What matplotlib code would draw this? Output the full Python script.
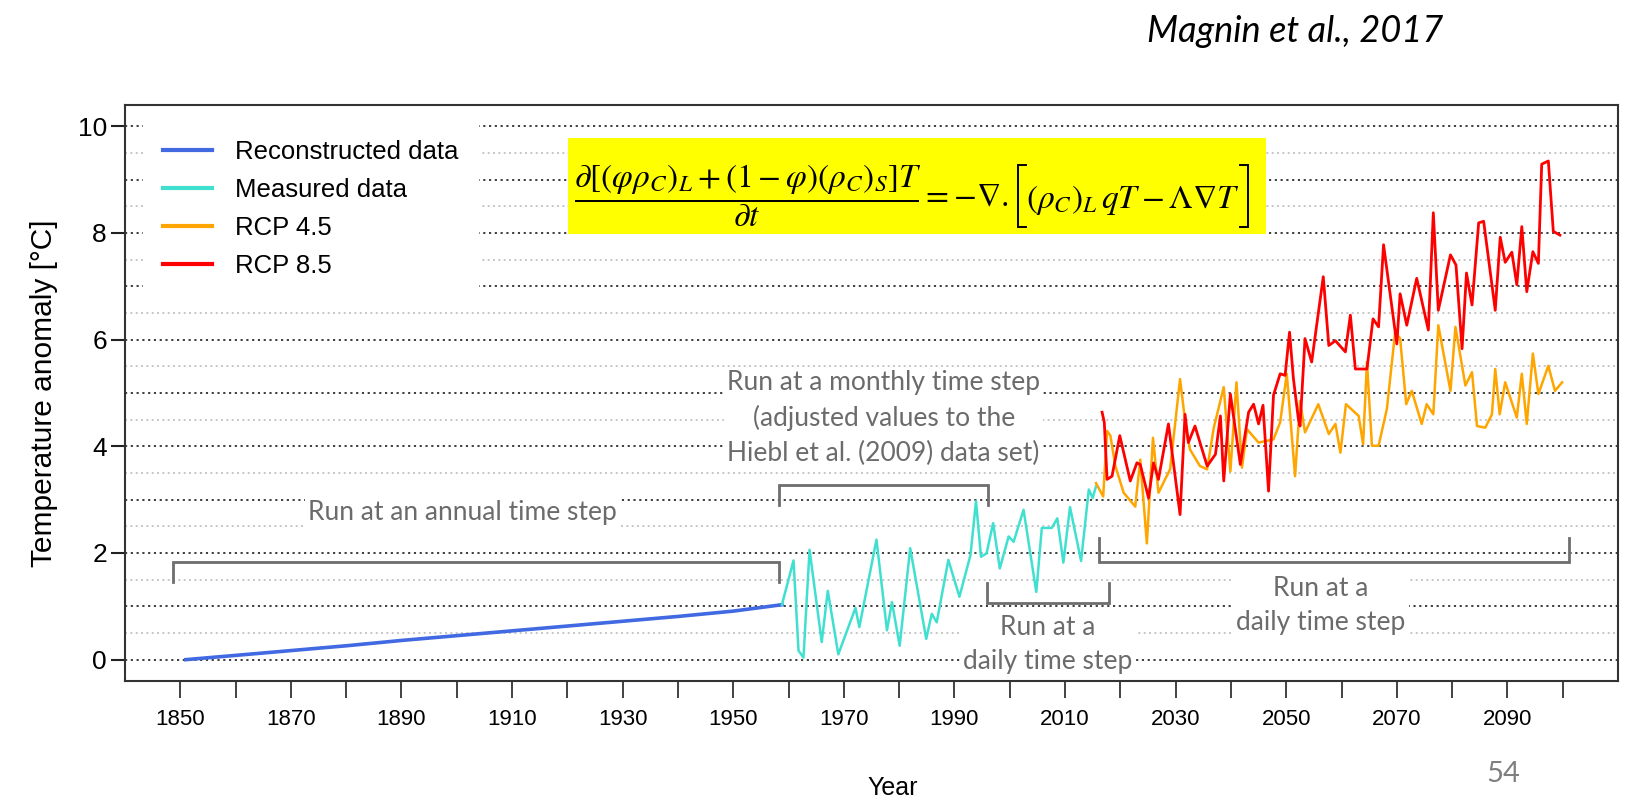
import matplotlib
matplotlib.use('Agg')
import numpy as np
import matplotlib.pyplot as plt
from matplotlib.patches import Rectangle

plt.rcParams['font.family'] = ['Liberation Sans', 'DejaVu Sans']
plt.rcParams['mathtext.fontset'] = 'stix'

# values
reconstructed_years = [1851, 1860, 1870, 1880, 1890, 1900, 1910, 1920, 1930, 1940, 1950, 1958.8]
reconstructed_temp = [0.0, 0.08, 0.17, 0.26, 0.36, 0.45, 0.54, 0.63, 0.72, 0.81, 0.91, 1.03]

measured_years = [1958.8, 1960.9, 1961.8, 1962.7, 1963.8, 1966.0, 1967.1, 1969.0, 1972.1, 1972.8,
                  1975.9, 1977.8, 1978.7, 1980.1, 1982.0, 1984.9, 1985.9, 1986.8, 1988.9, 1990.9,
                  1992.9, 1993.9, 1994.8, 1995.8, 1997.0, 1998.2, 1999.8, 2000.7, 2002.5, 2004.8,
                  2005.8, 2007.6, 2008.6, 2009.7, 2010.9, 2012.9, 2014.3, 2015.0, 2015.6]
measured_temp = [1.03, 1.86, 0.17, 0.04, 2.06, 0.33, 1.29, 0.10, 0.97, 0.61,
                 2.25, 0.55, 1.08, 0.26, 2.09, 0.39, 0.86, 0.70, 1.87, 1.18,
                 1.96, 2.97, 1.93, 1.99, 2.56, 1.71, 2.31, 2.21, 2.81, 1.27,
                 2.47, 2.47, 2.65, 1.82, 2.86, 1.85, 3.19, 3.03, 3.25]

rcp45_years = [2015.6, 2016.9, 2017.6, 2018.2, 2019.1, 2020.6, 2022.7, 2023.6, 2024.8, 2025.9,
               2026.9, 2029.0, 2030.8, 2031.9, 2032.6, 2034.4, 2035.7, 2036.9, 2038.7, 2039.9,
               2041.0, 2042.0, 2042.9, 2045.0, 2047.7, 2048.9, 2050.1, 2051.6, 2052.5, 2053.4,
               2055.8, 2057.7, 2058.9, 2059.8, 2060.8, 2063.1, 2063.9, 2064.6, 2065.5, 2066.7,
               2068.2, 2069.7, 2070.6, 2071.7, 2072.7, 2074.5, 2075.4, 2076.6, 2077.5, 2079.7,
               2080.6, 2082.4, 2083.6, 2084.5, 2086.0, 2087.2, 2087.8, 2088.6, 2089.6, 2091.7,
               2092.6, 2093.5, 2094.6, 2095.6, 2097.4, 2098.6, 2099.9]
rcp45_temp = [3.31, 3.06, 4.29, 4.20, 3.63, 3.13, 2.87, 3.75, 2.18, 4.16,
              3.13, 3.57, 5.26, 4.32, 3.94, 3.63, 3.57, 4.35, 5.11, 3.53,
              5.20, 3.60, 4.32, 4.07, 4.13, 4.45, 5.36, 3.44, 4.85, 4.26,
              4.79, 4.23, 4.42, 3.88, 4.79, 4.57, 4.04, 5.58, 4.01, 4.01,
              4.70, 6.14, 6.02, 4.79, 5.04, 4.42, 4.79, 4.60, 6.27, 5.04,
              6.24, 5.14, 5.39, 4.38, 4.35, 4.60, 5.45, 4.60, 5.20, 4.54,
              5.36, 4.42, 5.74, 4.98, 5.51, 5.04, 5.20]

rcp85_years = [2016.7, 2017.1, 2017.6, 2018.5, 2019.9, 2021.8, 2023.0, 2023.6, 2025.1, 2026.0,
               2026.9, 2028.7, 2030.8, 2031.7, 2032.3, 2033.5, 2035.7, 2037.2, 2038.1, 2038.7,
               2039.9, 2041.7, 2043.2, 2044.1, 2045.0, 2045.8, 2046.8, 2047.7, 2048.9, 2049.8,
               2050.6, 2051.3, 2052.2, 2052.5, 2053.4, 2054.6, 2056.7, 2057.7, 2058.9, 2060.7,
               2061.6, 2062.5, 2064.6, 2065.7, 2066.7, 2067.6, 2070.0, 2070.6, 2071.8, 2073.6,
               2075.7, 2076.6, 2077.5, 2079.7, 2080.7, 2081.8, 2082.6, 2083.6, 2084.8, 2085.7,
               2087.8, 2088.7, 2089.6, 2090.8, 2091.7, 2092.6, 2093.5, 2094.6, 2095.6, 2096.2,
               2097.4, 2098.3, 2099.5]
rcp85_temp = [4.64, 4.45, 3.38, 3.44, 4.20, 3.35, 3.69, 3.66, 3.03, 3.69,
              3.38, 4.42, 2.72, 4.60, 4.07, 4.38, 3.63, 3.85, 4.57, 3.35,
              4.98, 3.66, 4.64, 4.79, 4.42, 4.77, 3.16, 4.96, 5.36, 5.33,
              6.14, 5.27, 4.51, 4.38, 6.02, 5.58, 7.18, 5.89, 5.98, 5.77,
              6.46, 5.45, 5.45, 6.39, 6.24, 7.78, 5.92, 6.86, 6.27, 7.15,
              6.18, 8.38, 6.55, 7.59, 7.40, 5.83, 7.25, 6.65, 8.19, 8.22,
              6.55, 7.92, 7.45, 7.64, 7.03, 8.12, 6.90, 7.65, 7.43, 9.29,
              9.35, 8.03, 7.96]

tick_years = list(range(1850, 2101, 10))
tick_labels = [str(y) if (y - 1850) % 20 == 0 else '' for y in tick_years]

note_font = ['Lato', 'DejaVu Sans']
note_color = '#6b6b6b'

fig = plt.figure(figsize=(16.25, 7.99), dpi=100)
ax = fig.add_axes([0.0769, 0.1477, 0.9188, 0.7209])
ax.set_xlim(1840, 2110)
ax.set_ylim(-0.4, 10.4)

# dotted horizontal grid, dark on whole degrees, light on halves
for v in range(0, 11):
    ax.axhline(v, color='#2e2e2e', lw=1.3, ls=(0, (1.2, 2.0)), zorder=1)
for v in np.arange(0.5, 10, 1.0):
    ax.axhline(v, color='#bdbdbd', lw=1.2, ls=(0, (1.2, 2.0)), zorder=1)

ax.plot(reconstructed_years, reconstructed_temp, color='#4169E1', lw=2.6, label='Reconstructed data', zorder=3)
ax.plot(measured_years, measured_temp, color='#40E0D0', lw=1.8, label='Measured data', zorder=3)
ax.plot(rcp45_years, rcp45_temp, color='#FFA500', lw=1.8, label='RCP 4.5', zorder=3)
ax.plot(rcp85_years, rcp85_temp, color='#FF0000', lw=2.0, label='RCP 8.5', zorder=4)

ax.set_xticks(tick_years)
ax.set_xticklabels(tick_labels, fontsize=16)
ax.set_yticks(range(0, 11, 2))
ax.tick_params(axis='x', length=12, width=1.2, pad=8, colors='#222222', labelcolor='black')
ax.tick_params(axis='y', length=10, width=1.5, pad=3, labelsize=19, colors='#222222', labelcolor='black')
for s in ax.spines.values():
    s.set_color('#333333')
    s.set_linewidth(1.5)

ax.set_ylabel('Temperature anomaly [°C]', fontsize=21.5)
ax.yaxis.set_label_coords(-0.045, 0.5)
ax.set_xlabel('Year', fontsize=18)
ax.xaxis.set_label_coords(0.514, -0.165)

leg = ax.legend(loc='upper left', bbox_to_anchor=(0.012, 0.975), fontsize=18.5, frameon=True,
                fancybox=False, edgecolor='none', facecolor='white', framealpha=1,
                handlelength=1.9, handletextpad=0.9, labelspacing=0.55, borderpad=0.8,
                borderaxespad=0)
for line in leg.get_lines():
    line.set_linewidth(3)


def bracket(x0, x1, y_bar, y_end):
    ax.plot([x0, x0, x1, x1], [y_end, y_bar, y_bar, y_end], color='#6e6e6e', lw=2.0,
            solid_joinstyle='miter', zorder=2)


box = dict(facecolor='white', edgecolor='none', pad=2)

bracket(1848.6, 1958.2, 1.83, 1.45)
ax.text(1901, 2.76, 'Run at an annual time step', family=note_font, fontsize=19,
        color=note_color, ha='center', va='center', bbox=box, zorder=2)

bracket(1958.3, 1996.0, 3.28, 2.90)
ax.text(1977.2, 4.53, 'Run at a monthly time step\n(adjusted values to the\nHiebl et al. (2009) data set)',
        family=note_font, fontsize=19, color=note_color, ha='center', va='center',
        linespacing=1.5, bbox=box, zorder=2)

bracket(1995.8, 2017.9, 1.07, 1.44)
ax.text(2006.8, 0.28, 'Run at a\ndaily time step', family=note_font, fontsize=19,
        color=note_color, ha='center', va='center', linespacing=1.45, bbox=box, zorder=2)

bracket(2016.2, 2101.2, 1.84, 2.28)
ax.text(2056.3, 1.01, 'Run at a\ndaily time step', family=note_font, fontsize=19,
        color=note_color, ha='center', va='center', linespacing=1.45, bbox=box, zorder=2)

# heat transport equation on a yellow panel
ax.add_patch(Rectangle((0.297, 0.776), 0.467, 0.167, transform=ax.transAxes,
                       facecolor='#FFFF00', edgecolor='none', zorder=5))
eq_base = 0.822
lhs = ax.text(0.301, eq_base, r'$\dfrac{\partial\left[\left(\varphi\rho_C\right)_L+\left(1-\varphi\right)'
              r'\left(\rho_C\right)_S\right]T}{\partial t}=-\nabla.$',
              transform=ax.transAxes, fontsize=24, ha='left', va='baseline', zorder=6)
fig.canvas.draw()
renderer = fig.canvas.get_renderer()
to_axes = ax.transAxes.inverted()
lb = lhs.get_window_extent(renderer)
x_rhs = to_axes.transform((lb.x1 + 17, 0))[0]
rhs = ax.text(x_rhs, eq_base, r'$\left(\rho_C\right)_L\,qT-\Lambda\nabla T$', transform=ax.transAxes,
              fontsize=24, ha='left', va='baseline', zorder=6)
rb = rhs.get_window_extent(renderer)

# tall square brackets around the right-hand side, as tall as the fraction
y_top, y_bot = lb.y1 - 2, lb.y0 + 2
for xe, arm in [(rb.x0 - 8, 8), (rb.x1 + 8, -8)]:
    pts = to_axes.transform([(xe + arm, y_top), (xe, y_top), (xe, y_bot), (xe + arm, y_bot)])
    ax.plot(pts[:, 0], pts[:, 1], transform=ax.transAxes, color='black', lw=1.4,
            solid_joinstyle='miter', clip_on=False, zorder=6)

fig.text(1443 / 1625, 1 - 31 / 799, 'Magnin et al., 2017', family=['Lato', 'DejaVu Sans'],
         style='italic', fontsize=26, ha='right', va='center', color='black')
fig.text(1503 / 1625, 1 - 774 / 799, '54', family=['Lato', 'DejaVu Sans'], fontsize=21,
         ha='center', va='center', color='#7f7f7f')

fig.savefig('out.png', dpi=100)
